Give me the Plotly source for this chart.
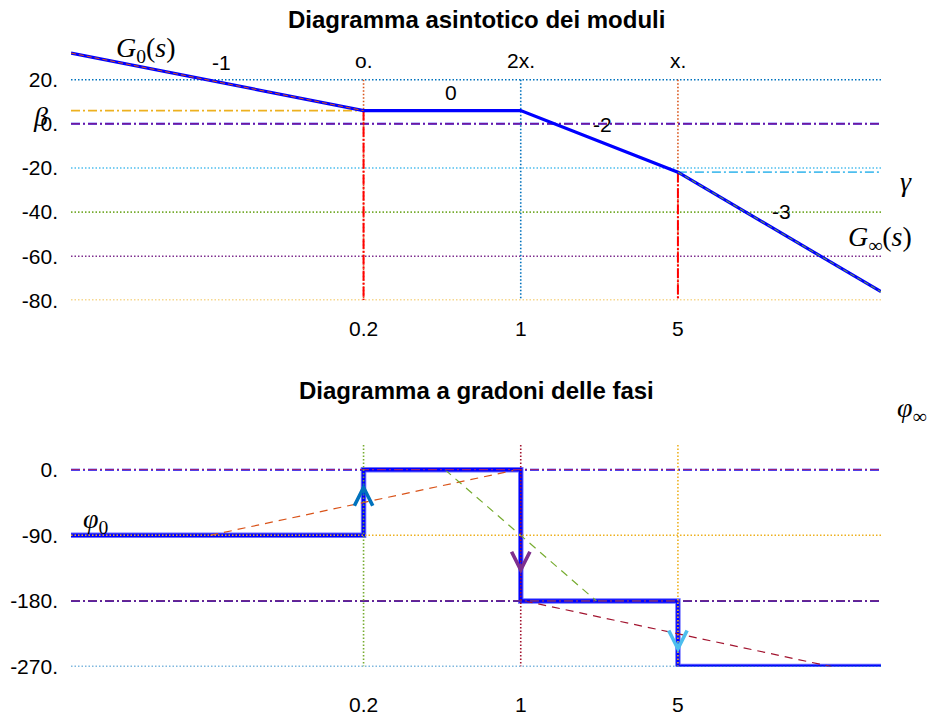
import math
import plotly.graph_objects as go

# ---------------- data ----------------
break_freqs = [0.2, 1, 5]
break_marks = ["o.", "2x.", "x."]
freq_ticklabels = ["0.2", "1", "5"]
w_min, w_max = 0.01, 40

mag_ticks = [20, 0, -20, -40, -60, -80]
mag_ticklabels = ["20.", "0.", "-20.", "-40.", "-60.", "-80."]
mag_grid_colors = ["#0072BD", None, "#4DBEEE", "#77AC30", "#7E2F8E", "#EDB120"]

# asymptotic magnitude (dB) at corner frequencies
asy_w = [0.01, 0.2, 1, 5, 40]
asy_db = [32.1, 6.0, 6.0, -21.9, -76.1]
beta_db = 6.0
gamma_db = -21.9
slope_labels = ["-1", "0", "-2", "-3"]
slope_label_w = [0.0465, 0.49, 2.32, 14.4]
slope_label_db = [27.7, 14.3, -0.5, -39.7]

phase_ticks = [0, -90, -180, -270]
phase_ticklabels = ["0.", "-90.", "-180.", "-270."]
step_w = [0.01, 0.2, 0.2, 1, 1, 5, 5, 40]
step_deg = [-90, -90, 0, 0, -180, -180, -270, -270]

# phase transition segments
trans_w = [[0.0416, 0.962], [0.46, 2.17], [1.04, 24.05]]
trans_deg = [[-90, 0], [0, -180], [-180, -270]]
trans_colors = ["#D95319", "#77AC30", "#A2142F"]

# chevrons on the phase jumps (apex position)
arrow_deg = [-18.9, -143, -251]
arrow_dir = [1, -1, -1]
arrow_colors = ["#0072BD", "#7E2F8E", "#4DBEEE"]
phase_vert_colors = ["#77AC30", "#A2142F", "#EDB120"]
mag_vert_colors = ["#D95319", "#0072BD", "#D95319"]

FONT = "Liberation Sans, Arial, sans-serif"
SERIF = "Liberation Serif, Times New Roman, serif"
DOT = "1.5px,2px"
DASHDOT = "9px,3px,2px,3px"

fig = go.Figure()


def line(x, y, color, width, dash="solid", ax=1):
    fig.add_trace(go.Scatter(
        x=x, y=y, mode="lines", line=dict(color=color, width=width, dash=dash),
        xaxis="x" if ax == 1 else "x2", yaxis="y" if ax == 1 else "y2",
        showlegend=False, hoverinfo="skip"))


def lx(v):
    # annotations on log axes are positioned in log10 units
    return math.log10(v)


# ---------------- top: magnitude ----------------
for v, c in zip(mag_ticks, mag_grid_colors):
    if c is None:
        line([w_min, w_max], [v, v], "#0000FF", 2, DASHDOT)
        line([w_min, w_max], [v, v], "#E0303A", 0.8, DASHDOT)
    else:
        line([w_min, w_max], [v, v], c, 1.6, DOT)

for f, c in zip(break_freqs, mag_vert_colors):
    line([f, f], [mag_ticks[0], mag_ticks[-1]], c, 1.6, DOT)

line([w_min, break_freqs[0]], [beta_db, beta_db], "#EDB120", 1.8, DASHDOT)
line([break_freqs[2], w_max], [gamma_db, gamma_db], "#4DBEEE", 1.8, DASHDOT)

line([break_freqs[0], break_freqs[0]], [asy_db[1], mag_ticks[-1]], "#FF0000", 2, "10px,2px,2px,2px")
line([break_freqs[2], break_freqs[2]], [asy_db[3], mag_ticks[-1]], "#FF0000", 2, "10px,2px,2px,2px")

line(asy_w, asy_db, "#0000FF", 3.2)
line(asy_w[:2], asy_db[:2], "#D95319", 1, "5px,3px")
line(asy_w[3:], asy_db[3:], "#77AC30", 1, "5px,3px")

# ---------------- bottom: phase ----------------
line(step_w, step_deg, "#6F6FFF", 5.5, ax=2)
line(step_w, step_deg, "#0000FF", 3.5, ax=2)

for tw, td, c in zip(trans_w, trans_deg, trans_colors):
    line(tw, td, c, 1.2, "8px,6px", ax=2)

for v in phase_ticks:
    if v == 0:
        line([w_min, w_max], [v, v], "#0000FF", 2, DASHDOT, ax=2)
        line([w_min, w_max], [v, v], "#E0303A", 0.8, DASHDOT, ax=2)
    elif v == -180:
        line([w_min, w_max], [v, v], "#0000FF", 2, DASHDOT, ax=2)
        line([w_min, w_max], [v, v], "#D95319", 0.9, DASHDOT, ax=2)
    elif v == -90:
        line([w_min, w_max], [v, v], "#EDB120", 1.6, DOT, ax=2)
    else:
        line([w_min, w_max], [v, v], "#0072BD", 1.6, DOT, ax=2)

for f, c in zip(break_freqs, phase_vert_colors):
    line([f, f], [33.75, phase_ticks[-1]], c, 1.6, DOT, ax=2)

# ---------------- annotations ----------------
ann = []
C = dict(xanchor="center", yanchor="middle", showarrow=False)
title_font = dict(size=24, family=FONT, color="black")
ann.append(dict(text="<b>Diagramma asintotico dei moduli</b>", xref="paper", yref="paper",
                x=476 / 937, y=1 - 20 / 717, font=title_font, **C))
ann.append(dict(text="<b>Diagramma a gradoni delle fasi</b>", xref="paper", yref="paper",
                x=476 / 937, y=1 - 397 / 717, font=title_font, **C))

lab_font = dict(size=21, family=FONT, color="black")
for f, m in zip(break_freqs, break_marks):
    ann.append(dict(text=m, x=lx(f), y=28.6, xref="x", yref="y", font=lab_font, **C))
    ann.append(dict(text=m, x=lx(f), y=56.7, xref="x2", yref="y2", font=lab_font, **C))

for t, xw, yd in zip(slope_labels, slope_label_w, slope_label_db):
    ann.append(dict(text=t, x=lx(xw), y=yd, xref="x", yref="y", font=lab_font, **C))

math_font = dict(size=28, family=SERIF, color="black")
# labels that sit outside the axis ranges are placed in paper coordinates
ann.append(dict(text="<i>G</i><sub>0</sub>(<i>s</i>)", x=146 / 937, y=1 - 50 / 717,
                xref="paper", yref="paper", font=math_font, **C))
ann.append(dict(text="<i>G</i><sub>∞</sub>(<i>s</i>)", x=880 / 937, y=1 - 242 / 717,
                xref="paper", yref="paper", font=math_font, **C))
ann.append(dict(text="<i>γ</i>", x=906 / 937, y=1 - 184 / 717,
                xref="paper", yref="paper", font=math_font, **C))
ann.append(dict(text="<i>β</i>", x=40 / 937, y=1 - 118 / 717,
                xref="paper", yref="paper", font=math_font, **C))
ann.append(dict(text="<i>φ</i><sub>0</sub>", x=lx(0.0129), y=-70, xref="x2", yref="y2",
                font=math_font, **C))
ann.append(dict(text="<i>φ</i><sub>∞</sub>", x=912 / 937, y=1 - 416 / 717,
                xref="paper", yref="paper", font=math_font, **C))

for f, d, s, c in zip(break_freqs, arrow_deg, arrow_dir, arrow_colors):
    ann.append(dict(text="", x=lx(f), y=d, xref="x2", yref="y2", ax=0, ay=13 * s,
                    showarrow=True, arrowhead=5, arrowsize=4.0, arrowwidth=0.9, arrowcolor=c))

xaxis_common = dict(type="log", range=[-2, 1.60206], domain=[71 / 937, 881 / 937],
                    showgrid=False, zeroline=False, showline=False, ticks="",
                    tickvals=break_freqs, ticktext=freq_ticklabels,
                    tickfont=dict(size=21, family=FONT, color="black"))

fig.update_layout(
    width=937, height=717,
    margin=dict(l=0, r=0, t=0, b=0),
    paper_bgcolor="white", plot_bgcolor="white",
    showlegend=False,
    xaxis=dict(**xaxis_common, anchor="y", ticklabelstandoff=14),
    yaxis=dict(range=[-80, 33], domain=[412 / 717, (717 - 51.88) / 717], anchor="x",
               showgrid=False, zeroline=False, showline=False, ticks="",
               tickvals=mag_ticks, ticktext=mag_ticklabels, ticklabelstandoff=12,
               tickfont=dict(size=21, family=FONT, color="black")),
    xaxis2=dict(**xaxis_common, anchor="y2", ticklabelstandoff=23),
    yaxis2=dict(range=[-270, 34], domain=[40 / 717, (717 - 451.8) / 717], anchor="x2",
                showgrid=False, zeroline=False, showline=False, ticks="",
                tickvals=phase_ticks, ticktext=phase_ticklabels, ticklabelstandoff=12,
                tickfont=dict(size=21, family=FONT, color="black")),
    annotations=ann,
)

fig.write_html("out.html")
